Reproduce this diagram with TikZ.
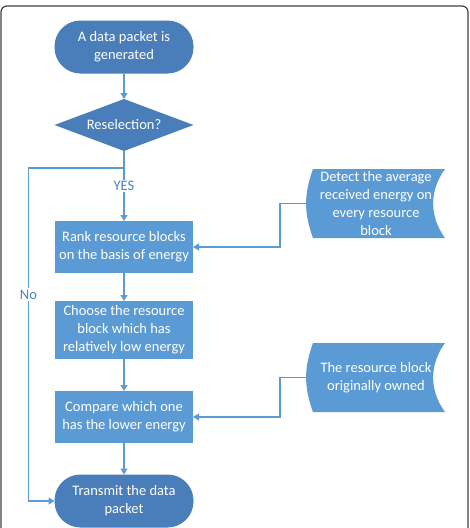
\documentclass[tikz,border=0pt]{standalone}
\usepackage{fontspec}
\setmainfont{Carlito}
\usetikzlibrary{shapes.geometric, positioning, arrows.meta, backgrounds}
\definecolor{termblue}{HTML}{4A7EBB}
\definecolor{boxblue}{HTML}{5B9BD5}
\definecolor{lineblue}{HTML}{5B9BD5}
\definecolor{labelblue}{HTML}{4A82C3}

\begin{document}
\begin{tikzpicture}[
        x=1pt, y=-1pt,
        >={Triangle[length=6pt,width=7pt]},
        font=\fontsize{14.5}{18}\selectfont,
        every node/.style={outer sep=0pt, align=center},
        term/.style={
            rectangle, rounded corners=26pt,
            minimum width=139pt, minimum height=53pt,
            fill=termblue, text=white
        },
        decision/.style={
            diamond, inner sep=0pt, shape aspect=2.67,
            minimum width=139pt, minimum height=52pt,
            fill=termblue, text=white
        },
        process/.style={
            rectangle, minimum width=138pt, minimum height=52pt,
            fill=boxblue, text=white, inner sep=2pt
        },
        store/.style={
            rectangle, minimum width=138pt, minimum height=69pt,
            text=white, inner sep=2pt
        },
        line/.style={->, draw=lineblue, line width=1.2pt},
        lbl/.style={fill=white, text=labelblue, inner sep=1.5pt}
    ]
        \useasboundingbox (0,0) rectangle (470,528);
        % frame round the figure
        \draw[line width=1.2pt, black!75, rounded corners=6pt]
            (1,530) -- (1,6) -- (468,6) -- (468,530);

        % main chain
        \node[term] (start) at (124,47) {A data packet is\\generated};
        \node[decision] (resel) at (124,125) {Reselection?};
        \node[process] (rank) at (124,247) {Rank resource blocks\\on the basis of energy};
        \node[process, minimum height=58pt] (choose) at (124,330)
            {Choose the resource\\block which has\\relatively low energy};
        \node[process] (compare) at (124,417) {Compare which one\\has the lower energy};
        \node[term] (send) at (124,501) {Transmit the data\\packet};

        % stored data on the right
        \node[store] (detect) at (376,203.5)
            {Detect the average\\received energy on\\every resource\\block};
        \node[store] (owned) at (376,377.5) {The resource block\\originally owned};
        \begin{scope}[on background layer]
            \foreach \n in {detect, owned}
                \fill[boxblue] ([xshift=6pt]\n.south west) to[bend left=20] ([xshift=6pt]\n.north west)
                    -- (\n.north east) to[bend right=36] (\n.south east) -- cycle;
        \end{scope}

        % connectors
        \draw[line] (start) -- (resel);
        \draw[line, -] (resel.south) -- ++(0,17) coordinate (split);
        \draw[line] (split) -- node[lbl, pos=0.34] {YES} (rank);
        \coordinate (nocorner) at ([xshift=-26pt]send.west);
        \draw[line] (split) -| node[lbl, pos=0.69] {No} (nocorner) -- (send);
        \draw[line] (rank) -- (choose);
        \draw[line] (choose) -- (compare);
        \draw[line] (compare) -- (send);
        \draw[line] (detect.west) -- ++(-27,0) |- (rank);
        \draw[line] (owned.west) -- ++(-27,0) |- (compare);
\end{tikzpicture}
\end{document}
